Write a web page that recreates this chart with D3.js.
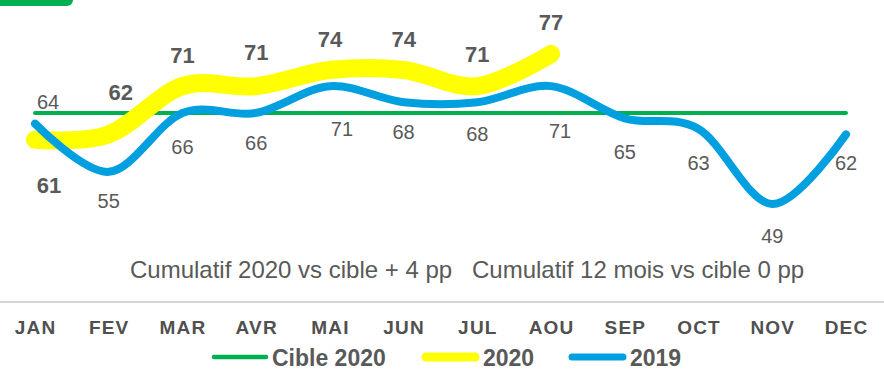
<!DOCTYPE html>
<html>
<head>
<meta charset="utf-8">
<script src="https://cdn.jsdelivr.net/npm/d3@7/dist/d3.min.js"></script>
<style>
  html, body { margin: 0; padding: 0; background: #fff; }
  svg { display: block; font-family: "Liberation Sans", Arial, sans-serif; }
</style>
</head>
<body>
<svg id="chart" width="884" height="376"></svg>
<script>
// Monthly categories
const months = ["JAN", "FEV", "MAR", "AVR", "MAI", "JUN", "JUL", "AOU", "SEP", "OCT", "NOV", "DEC"];
// Series values
const values2020 = [61, 62, 71, 71, 74, 74, 71, 77];
const values2019 = [64, 55, 66, 66, 71, 68, 68, 71, 65, 63, 49, 62];
const cible2020 = 66;
// Legend and summary texts
const legendLabels = ["Cible 2020", "2020", "2019"];
const summaryTexts = ["Cumulatif 2020 vs cible + 4 pp", "Cumulatif 12 mois vs cible 0 pp"];

const colors = { cible: "#00B050", y2020: "#FFFF00", y2019: "#009FE0" };
const textGrey = "#595959";

const svg = d3.select("#chart");

const x = d3.scalePoint().domain(months).range([35, 846]);
const y = d3.scaleLinear().domain([49, 77]).range([204, 54]);

// Small green tab in the top-left corner
svg.append("rect")
  .attr("x", -10).attr("y", -10)
  .attr("width", 83).attr("height", 16)
  .attr("rx", 6)
  .attr("fill", colors.cible);

const line = d3.line()
  .x(d => x(d.m))
  .y(d => y(d.v))
  .curve(d3.curveCardinal.tension(0));

// Target line
svg.append("path")
  .attr("d", line([{ m: months[0], v: cible2020 }, { m: months[months.length - 1], v: cible2020 }]))
  .attr("fill", "none")
  .attr("stroke", colors.cible)
  .attr("stroke-width", 4)
  .attr("stroke-linecap", "round");

// 2020 series
const pts2020 = values2020.map((v, i) => ({ m: months[i], v }));
svg.append("path")
  .attr("d", line(pts2020))
  .attr("fill", "none")
  .attr("stroke", colors.y2020)
  .attr("stroke-width", 18)
  .attr("stroke-linecap", "round")
  .attr("stroke-linejoin", "round");

// 2019 series
const pts2019 = values2019.map((v, i) => ({ m: months[i], v }));
svg.append("path")
  .attr("d", line(pts2019))
  .attr("fill", "none")
  .attr("stroke", colors.y2019)
  .attr("stroke-width", 8)
  .attr("stroke-linecap", "round")
  .attr("stroke-linejoin", "round");

// Label nudges [dx, dy] relative to each point
const nudge2020 = [[14, 45], [12, -42], [0, -31], [0, -34], [0, -31], [0, -31], [0, -32], [0, -32]];
const nudge2019 = [[13, -22], [0, 29], [0, 34], [0, 30], [12, 43], [0, 30], [0, 32], [9, 45], [0, 34], [0, 34], [0, 32], [0, 28]];

svg.append("g").selectAll("text")
  .data(pts2020)
  .join("text")
  .attr("x", (d, i) => x(d.m) + nudge2020[i][0])
  .attr("y", (d, i) => y(d.v) + nudge2020[i][1])
  .attr("dy", "0.36em")
  .attr("text-anchor", "middle")
  .attr("font-size", 22)
  .attr("font-weight", "bold")
  .attr("fill", textGrey)
  .text(d => d.v);

svg.append("g").selectAll("text")
  .data(pts2019)
  .join("text")
  .attr("x", (d, i) => x(d.m) + nudge2019[i][0])
  .attr("y", (d, i) => y(d.v) + nudge2019[i][1])
  .attr("dy", "0.36em")
  .attr("text-anchor", "middle")
  .attr("font-size", 20)
  .attr("fill", textGrey)
  .text(d => d.v);

// Summary line
svg.append("text")
  .attr("x", 130).attr("y", 278)
  .attr("font-size", 24)
  .attr("fill", textGrey)
  .text(summaryTexts[0]);
svg.append("text")
  .attr("x", 472).attr("y", 278)
  .attr("font-size", 24)
  .attr("fill", textGrey)
  .text(summaryTexts[1]);

// Separator
svg.append("line")
  .attr("x1", 0).attr("x2", 884)
  .attr("y1", 302).attr("y2", 302)
  .attr("stroke", "#c8c8c8")
  .attr("stroke-width", 1.5);

// Category axis
const axis = d3.axisBottom(x).tickSize(0).tickPadding(0);
const gAxis = svg.append("g").attr("transform", "translate(0,320)").call(axis);
gAxis.select(".domain").remove();
gAxis.selectAll("text")
  .attr("font-family", "\"Liberation Sans\", Arial, sans-serif")
  .attr("font-size", 19)
  .attr("font-weight", "bold")
  .attr("letter-spacing", 1.2)
  .attr("fill", "#505050")
  .attr("dy", "0.71em");

// Legend
const legendItems = [
  { label: legendLabels[0], color: colors.cible, w: 4.5, x1: 214, x2: 266, tx: 272 },
  { label: legendLabels[1], color: colors.y2020, w: 9, x1: 426, x2: 475, tx: 483 },
  { label: legendLabels[2], color: colors.y2019, w: 7, x1: 572, x2: 623, tx: 630 }
];
const lg = svg.append("g");
legendItems.forEach(it => {
  lg.append("line")
    .attr("x1", it.x1).attr("x2", it.x2)
    .attr("y1", 357).attr("y2", 357)
    .attr("stroke", it.color)
    .attr("stroke-width", it.w)
    .attr("stroke-linecap", "round");
  lg.append("text")
    .attr("x", it.tx).attr("y", 366)
    .attr("font-size", 23)
    .attr("font-weight", "bold")
    .attr("fill", textGrey)
    .text(it.label);
});
</script>
</body>
</html>
